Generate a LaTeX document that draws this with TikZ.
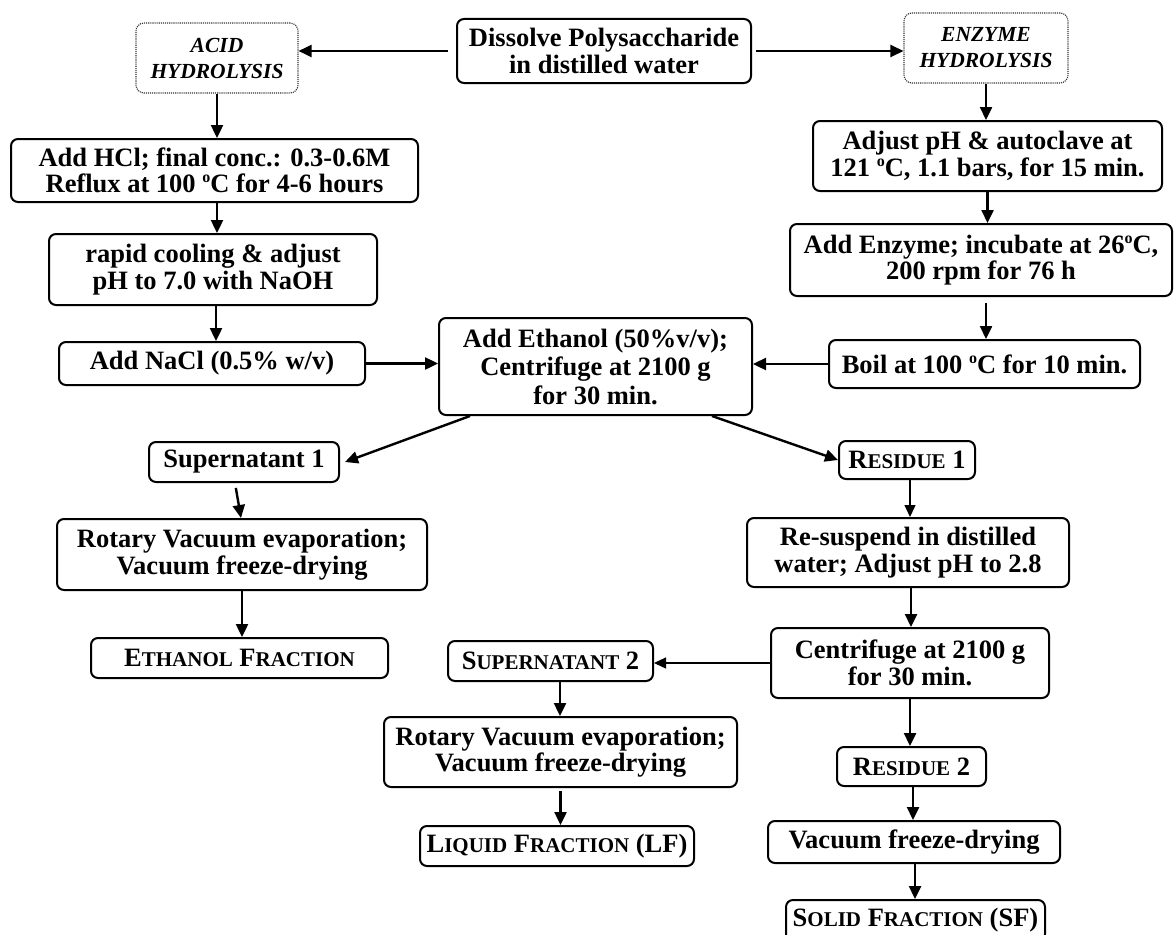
\documentclass[tikz,border=0pt]{standalone}
\usepackage{fontspec}
\setmainfont{Liberation Serif}
\usetikzlibrary{arrows.meta}
\newcommand\mfont{\fontsize{26.5}{26.5}\selectfont\bfseries}
\newcommand\ifont{\fontsize{21.5}{26}\selectfont\bfseries\itshape}
\newcommand\fsc[1]{{\fontsize{21}{20}\selectfont #1}}
\newcommand\dg{\raisebox{10pt}{\fontsize{16}{16}\selectfont o}}
\tikzset{
  box/.style={draw, rounded corners=7pt, line width=2pt, align=center, inner sep=0pt, font=\mfont},
  dbox/.style={draw=black!80, densely dotted, rounded corners=8pt, line width=1.1pt, align=center, inner sep=0pt, font=\ifont},
  arr/.style={-{Triangle[length=13pt,width=12pt]}, line width=2.4pt},
  tarr/.style={-{Triangle[length=12pt,width=11pt]}, line width=1.3pt},
}
\begin{document}
\begin{tikzpicture}[x=1pt,y={(0pt,-1pt)}]
\useasboundingbox (0,0) rectangle (1174,934);
\fill[white] (0,0) rectangle (1174,934);
% top row
\node[dbox, minimum width=162pt, minimum height=70pt] (acid) at (217,58) {ACID\\HYDROLYSIS};
\node[box, minimum width=294pt, minimum height=64pt] (diss) at (604,51) {Dissolve Polysaccharide\\in distilled water};
\node[dbox, minimum width=164pt, minimum height=70pt] (enz) at (986,48) {ENZYME\\HYDROLYSIS};
% left column
\node[box, minimum width=407pt, minimum height=63pt] (hcl) at (214.5,170.5) {Add HCl; final conc.: 0.3-0.6M\\Reflux at 100 \dg C for 4-6 hours};
\node[box, minimum width=328pt, minimum height=71pt] (cool) at (213,269.5) {rapid cooling \& adjust\\pH to 7.0 with NaOH};
\node[box, minimum width=306pt, minimum height=43pt] (nacl) at (212,363.5) {Add NaCl (0.5\% w/v)};
% right column
\node[box, minimum width=349pt, minimum height=70pt] (adj) at (987.5,156) {Adjust pH \& autoclave at\\121 \dg C, 1.1 bars, for 15 min.};
\node[box, minimum width=382pt, minimum height=72pt] (addenz) at (981,260) {Add Enzyme; incubate at 26\dg C,\\200 rpm for 76 h};
\node[box, minimum width=311pt, minimum height=48pt] (boil) at (984.5,364) {Boil at 100 \dg C for 10 min.};
% centre
\node[box, minimum width=313pt, minimum height=97pt, font=\fontsize{26.5}{28.5}\selectfont\bfseries] (eth) at (595.5,366.5) {Add Ethanol (50\%v/v);\\Centrifuge at 2100 g\\for 30 min.};
% left branch
\node[box, minimum width=190pt, minimum height=40pt] (sup1) at (244,462) {Supernatant 1};
\node[box, minimum width=370pt, minimum height=71pt] (rot1) at (242,554.5) {Rotary Vacuum evaporation;\\Vacuum freeze-drying};
\node[box, minimum width=297pt, minimum height=40pt] (ethfrac) at (239.5,658) {E\fsc{THANOL} F\fsc{RACTION}};
% right branch
\node[box, minimum width=136pt, minimum height=38pt] (res1) at (907,460) {R\fsc{ESIDUE} 1};
\node[box, minimum width=322pt, minimum height=69pt] (resus) at (908,552.5) {Re-suspend in distilled\\water; Adjust pH to 2.8};
\node[box, minimum width=278pt, minimum height=70pt] (cent) at (910,663) {Centrifuge at 2100 g\\for 30 min.};
\node[box, minimum width=205pt, minimum height=40pt] (sup2) at (550.5,661) {S\fsc{UPERNATANT} 2};
\node[box, minimum width=353pt, minimum height=70pt] (rot2) at (560.5,752) {Rotary Vacuum evaporation;\\Vacuum freeze-drying};
\node[box, minimum width=274pt, minimum height=40pt] (lf) at (557,846) {L\fsc{IQUID} F\fsc{RACTION} (LF)};
\node[box, minimum width=149pt, minimum height=39pt] (res2) at (911.5,766.5) {R\fsc{ESIDUE} 2};
\node[box, minimum width=292pt, minimum height=42pt] (vfd) at (914,842) {Vacuum freeze-drying};
\node[box, minimum width=259pt, minimum height=41pt, anchor=north] (sf) at (915.5,899) {S\fsc{OLID} F\fsc{RACTION} (SF)};
% arrows top
\draw[arr, shorten <=8pt] (diss.west) -- (acid.east |- diss.west);
\draw[arr, shorten <=4pt] (diss.east) -- (enz.west |- diss.east);
\draw[arr] (acid.south) -- (acid.south |- hcl.north);
\draw[arr] ([xshift=2.5pt]hcl.south) -- ([xshift=2.5pt]hcl.south |- cool.north);
\draw[arr] ([xshift=3pt]cool.south) -- ([xshift=3pt]cool.south |- nacl.north);
\draw[arr] (nacl.east) -- (eth.west |- nacl.east);
\draw[arr] (enz.south) -- (enz.south |- adj.north);
\draw[arr] (adj.south) -- (adj.south |- addenz.north);
\draw[arr, shorten <=6pt] ([xshift=5pt]addenz.south) -- ([xshift=5pt]addenz.south |- boil.north);
\draw[arr] (boil.west) -- (eth.east |- boil.west);
% split
\draw[arr] ([xshift=32pt]eth.south west) -- ([xshift=5pt]sup1.east);
\draw[arr] ([xshift=-41pt]eth.south east) -- (res1.west);
% left branch
\draw[arr, shorten <=5pt] ([xshift=-9pt]sup1.south) -- ([xshift=-1pt]rot1.north);
\draw[arr] (rot1.south) -- (rot1.south |- ethfrac.north);
% right branch
\draw[tarr] ([xshift=3pt]res1.south) -- ([xshift=3pt]res1.south |- resus.north);
\draw[arr] ([xshift=3pt]resus.south) -- ([xshift=3pt]resus.south |- cent.north);
\draw[tarr] (cent.west) -- (sup2.east |- cent.west);
\draw[arr] ([xshift=9.5pt]sup2.south) -- ([xshift=9.5pt]sup2.south |- rot2.north);
\draw[arr, shorten <=3pt] (rot2.south) -- (rot2.south |- lf.north);
\draw[arr] (cent.south) -- (cent.south |- res2.north);
\draw[arr] ([xshift=1.5pt]res2.south) -- ([xshift=1.5pt]res2.south |- vfd.north);
\draw[arr] ([xshift=1pt]vfd.south) -- ([xshift=1pt]vfd.south |- sf.north);
\end{tikzpicture}
\end{document}
